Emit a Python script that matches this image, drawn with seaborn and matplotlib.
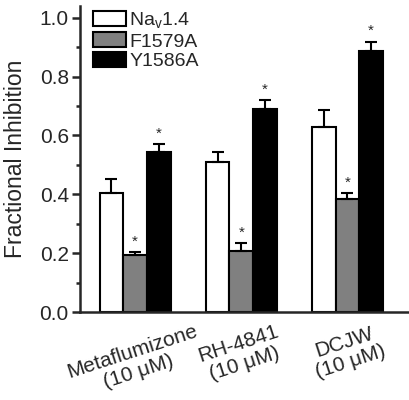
import pandas as pd
import seaborn as sns
import matplotlib.pyplot as plt
from matplotlib.ticker import MultipleLocator

# data
compounds = ["Metaflumizone\n(10 \u03bcM)", "RH-4841\n(10 \u03bcM)", "DCJW\n(10 \u03bcM)"]
channels = ["Na$_\\mathregular{v}$1.4", "F1579A", "Y1586A"]
nav14 = [0.405, 0.511, 0.629]
nav14_err = [0.047, 0.032, 0.057]
f1579a = [0.195, 0.208, 0.384]
f1579a_err = [0.008, 0.027, 0.021]
y1586a = [0.543, 0.690, 0.888]
y1586a_err = [0.027, 0.030, 0.031]

df = pd.DataFrame({
    "compound": compounds * 3,
    "channel": [c for c in channels for _ in compounds],
    "value": nav14 + f1579a + y1586a,
    "err": nav14_err + f1579a_err + y1586a_err,
})

sns.set_style("ticks")
plt.rcParams["font.family"] = ["Liberation Sans", "DejaVu Sans"]

fig, ax = plt.subplots(figsize=(4.1, 4.0), dpi=100)
sns.barplot(data=df, x="compound", y="value", hue="channel",
            palette=["white", "#808080", "black"], edgecolor="black",
            linewidth=1.5, width=0.67, errorbar=None, saturation=1, ax=ax)

# upward error bars + asterisks on the mutants
for i, p in enumerate(ax.patches[:9]):
    row = df.iloc[i]
    xc = p.get_x() + p.get_width() / 2
    top = p.get_height()
    ax.errorbar(xc, top, yerr=[[0], [row["err"]]], fmt="none", ecolor="black",
                elinewidth=1.5, capsize=4, capthick=1.5, zorder=1)
    if channels.index(row["channel"]) > 0:
        ax.text(xc, top + row["err"] + 0.012, "*", ha="center", va="bottom",
                fontsize=11)

ax.set_ylim(0, 1.04)
ax.set_xlim(-0.52, 2.59)
ax.yaxis.set_major_locator(MultipleLocator(0.2))
ax.yaxis.set_minor_locator(MultipleLocator(0.1))
ax.yaxis.set_major_formatter(plt.FuncFormatter(lambda v, _: f"{v:.1f}"))
ax.tick_params(axis="y", which="major", labelsize=15, width=1.8, length=6, pad=2)
ax.tick_params(axis="y", which="minor", width=1.8, length=3)
ax.tick_params(axis="x", length=0, labelsize=15, pad=7)
for lab in ax.get_xticklabels():
    lab.set_rotation(18)
    lab.set_ha("center")
    lab.set_linespacing(1.15)
ax.set_xlabel("")
ax.set_ylabel("Fractional Inhibition", fontsize=16.5, labelpad=9)
sns.despine(ax=ax)
for s in ["left", "bottom"]:
    ax.spines[s].set_linewidth(1.8)

ax.legend(loc="upper left", bbox_to_anchor=(0.04, 0.985), frameon=False,
          fontsize=14, handlelength=1.7, handleheight=0.8, labelspacing=0.08,
          handletextpad=0.15, borderaxespad=0, borderpad=0)

fig.subplots_adjust(left=0.195, right=1.0, bottom=0.22, top=0.985)
fig.savefig("out.png", dpi=100)
